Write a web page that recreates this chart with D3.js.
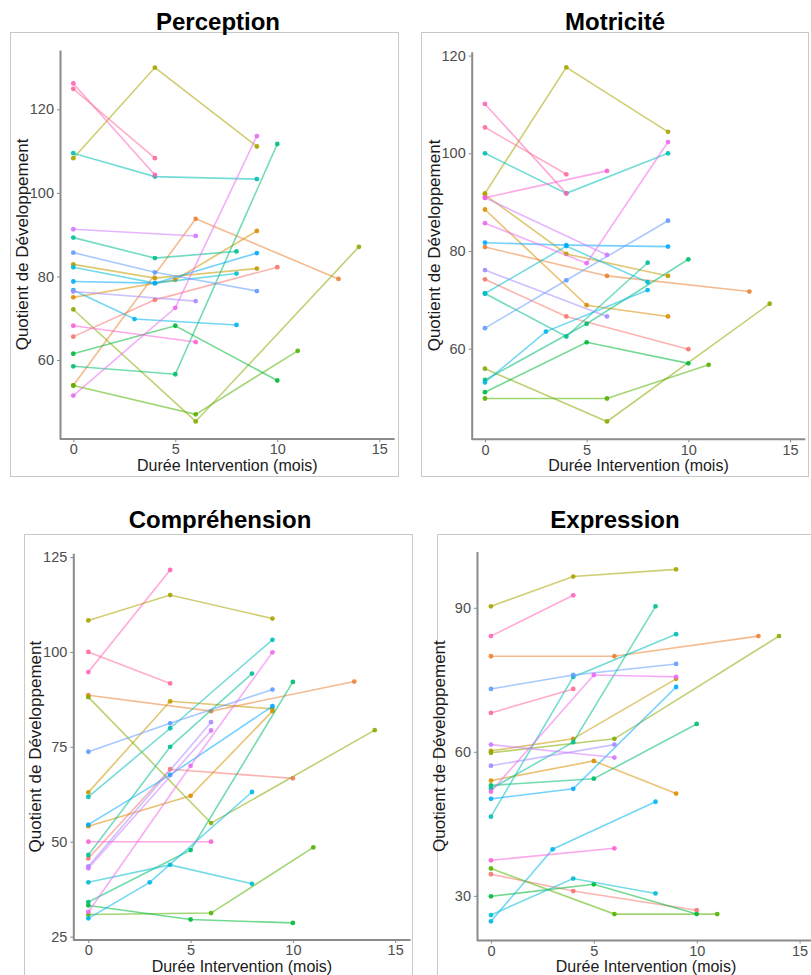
<!DOCTYPE html>
<html><head><meta charset="utf-8">
<script src="https://cdn.jsdelivr.net/npm/d3@7"></script>
<style>
body{margin:0;background:#fff;}
svg{display:block;font-family:"Liberation Sans",Arial,Helvetica,sans-serif;}
</style></head>
<body><svg id="c" width="811" height="975"></svg>
<script>
// ---------------- DATA ----------------
const subjects = ["S01","S02","S03","S04","S05","S06","S07","S08","S09","S10","S11","S12","S13","S14","S15","S16","S17","S18","S19","S20","S21"];
const months = [
  [0,4,10],[0,6,13],[0,5,9],[0,4,9],[0,4,9],[0,6,14],[0,6,11],[0,5,10],[0,5,10],[0,4,8],
  [0,4,9],[0,4,8],[0,3,8],[0,4,9],[0,4,9],[0,6],[0,6],[0,5,9],[0,6],[0,4],[0,4]
];
const perception = [
  [65.6,74.4,82.2],[53.9,93.8,79.4],[75.0,79.2,90.9],[82.9,79.6,81.9],[108.3,130.0,111.1],
  [72.1,45.3,87.1],[53.9,47.0,62.2],[61.5,68.2,55.1],[58.5,56.6,111.7],[89.3,84.4,86.0],
  [109.5,103.9,103.3],[82.2,78.4,80.7],[76.7,69.8,68.4],[78.8,78.4,85.6],[85.7,81.0,76.5],
  [76.4,74.1],[91.3,89.7],[51.5,72.5,113.6],[68.2,64.3],[126.2,104.3],[124.9,108.3]
];
const motricite = [
  [74.2,66.6,59.9],[80.8,74.9,71.7],[88.5,68.9,66.6],[91.5,79.4,74.9],[91.8,117.6,104.4],
  [55.9,45.1,69.2],[49.8,49.8,56.7],[51.1,61.3,57.0],[53.6,65.1,78.3],[71.3,62.5,77.6],
  [100.0,91.8,100.0],[71.3,81.0,73.6],[53.1,63.5,72.0],[81.7,81.2,80.9],[64.2,74.0,86.2],
  [76.1,66.6],[90.9,79.2],[85.7,77.5,102.3],[90.9,96.4],[110.1,91.8],[105.3,95.7]
];
const comprehension = [
  [45.6,69.1,66.7],[88.6,84.4,92.2],[54.1,62.1,84.4],[63.0,87.0,85.0],[108.3,115.0,108.8],
  [88.1,54.9,79.4],[30.8,31.2,48.5],[33.2,29.5,28.6],[34.1,47.8,92.1],[46.5,75.0,94.3],
  [61.8,79.9,103.2],[39.3,43.9,38.9],[29.8,39.3,63.1],[54.5,67.6,85.7],[73.7,81.2,90.1],
  [43.5,81.5],[43.0,79.3],[31.5,70.0,99.9],[50.0,50.0],[94.7,121.6],[100.0,91.7]
];
const expression = [
  [34.5,31.0,27.0],[79.9,79.9,84.1],[54.0,58.1,51.3],[60.2,62.7,75.2],[90.3,96.5,98.0],
  [59.8,62.7,84.1],[35.7,26.2,26.2],[29.9,32.4,26.2],[53.0,54.4,65.8],[52.3,62.0,90.3],
  [46.5,75.6,84.5],[26.0,33.6,30.5],[24.7,39.7,49.6],[50.2,52.3,73.5],[73.1,76.0,78.3],
  [57.1,61.5],[61.5,58.8],[51.7,76.0,75.6],[37.4,39.9],[84.1,92.6],[68.1,73.1]
];
const xTicks = [0,5,10,15];
const titles = ["Perception","Motricité","Compréhension","Expression"];
const yTicksPerception = [60,80,100,120];
const yTicksMotricite = [60,80,100,120];
const yTicksComprehension = [25,50,75,100,125];
const yTicksExpression = [30,60,90];
const xLabel = "Durée Intervention (mois)";
const yLabel = "Quotient de Développement";

// ---------------- COLOURS (ggplot-like hue palette, polar LUV) ----------------
function hclLuv(h, c, l) {
  const hr = h * Math.PI / 180;
  const U = c * Math.cos(hr), V = c * Math.sin(hr);
  const Xn = 95.047, Yn = 100, Zn = 108.883;
  const den = Xn + 15 * Yn + 3 * Zn;
  const un = 4 * Xn / den, vn = 9 * Yn / den;
  const Y = l > 8 ? Yn * Math.pow((l + 16) / 116, 3) : Yn * l / 903.3;
  const u = U / (13 * l) + un, v = V / (13 * l) + vn;
  const X = 9 * Y * u / (4 * v);
  const Z = -X / 3 - 5 * Y + 3 * Y / v;
  const x = X / 100, y = Y / 100, z = Z / 100;
  const lin = [
    3.240479 * x - 1.537150 * y - 0.498535 * z,
    -0.969256 * x + 1.875992 * y + 0.041556 * z,
    0.055648 * x - 0.204043 * y + 1.057311 * z
  ];
  const g = lin.map(t => {
    const s = t <= 0.0031308 ? 12.92 * t : 1.055 * Math.pow(t, 1 / 2.4) - 0.055;
    return Math.round(255 * Math.max(0, Math.min(1, s)));
  });
  return d3.rgb(g[0], g[1], g[2]).formatHex();
}
const palette = subjects.map((s, i) => hclLuv(15 + i * 360 / subjects.length, 100, 65));

// ---------------- LAYOUT ----------------
const panels = [
  {data: perception, ticks: yTicksPerception, frame:[10.5,32.5,388,444], titleX:218, titleY:30,
   xr:[58,394.6], yDom:[41.1,134.2], yr:[439,50], axX:60, axY:439},
  {data: motricite, ticks: yTicksMotricite, frame:[421.5,32.5,387,444], titleX:615, titleY:30,
   xr:[469.7,805.3], yDom:[41.45,120.8], yr:[439.3,51.7], axX:471.7, axY:439.3},
  {data: comprehension, ticks: yTicksComprehension, frame:[24.5,534.5,388,460], titleX:220, titleY:528,
   xr:[73,410.5], yDom:[24.1,126.0], yr:[940,553.3], axX:73.3, axY:940},
  {data: expression, ticks: yTicksExpression, frame:[437.5,534.5,380,460], titleX:615, titleY:528,
   xr:[475.5,815], yDom:[20.7,101.7], yr:[940.5,551.6], axX:477, axY:940.5}
];

const svg = d3.select("#c");

panels.forEach((p, pi) => {
  const g = svg.append("g");
  g.append("rect").attr("x", p.frame[0]).attr("y", p.frame[1])
    .attr("width", p.frame[2]).attr("height", p.frame[3])
    .attr("fill", "#fff").attr("stroke", "#c8c8c8").attr("stroke-width", 1);

  g.append("text").attr("x", p.titleX).attr("y", p.titleY)
    .attr("text-anchor", "middle").attr("font-size", 24).attr("font-weight", "bold")
    .attr("fill", "#000").text(titles[pi]);

  const x = d3.scaleLinear().domain([-0.75, 15.75]).range(p.xr);
  const y = d3.scaleLinear().domain(p.yDom).range(p.yr);

  // axes
  const ax = g.append("g").attr("transform", `translate(0,${p.axY})`)
    .call(d3.axisBottom(x).tickValues(xTicks).tickSize(3).tickSizeOuter(0).tickPadding(2));
  const ay = g.append("g").attr("transform", `translate(${p.axX},0)`)
    .call(d3.axisLeft(y).tickValues(p.ticks).tickSize(3).tickSizeOuter(0).tickPadding(3));
  [ax, ay].forEach(a => {
    a.select(".domain").attr("stroke", "#8a8a8a").attr("stroke-width", 2);
    a.selectAll(".tick line").attr("stroke", "#8a8a8a").attr("stroke-width", 1);
    a.selectAll(".tick text").attr("fill", "#4d4d4d").attr("font-size", 14.5)
      .attr("font-family", "Liberation Sans, Arial, sans-serif");
  });
  ax.select(".domain").attr("d", `M${p.axX},0H${p.xr[1]}`);

  // axis titles
  g.append("text").attr("x", (p.axX + p.xr[1]) / 2).attr("y", p.axY + 31.5)
    .attr("text-anchor", "middle").attr("font-size", 16).attr("fill", "#1a1a1a").text(xLabel);
  g.append("text")
    .attr("transform", `translate(${p.axX - 32},${(p.yr[0] + p.yr[1]) / 2}) rotate(-90)`)
    .attr("text-anchor", "middle").attr("font-size", 17).attr("fill", "#1a1a1a").text(yLabel);

  // lines + points
  const line = d3.line().x(d => x(d[0])).y(d => y(d[1]));
  subjects.forEach((s, i) => {
    const pts = months[i].map((m, k) => [m, p.data[i][k]]);
    g.append("path").attr("d", line(pts)).attr("fill", "none")
      .attr("stroke", palette[i]).attr("stroke-width", 1.6).attr("stroke-opacity", 0.55);
    g.selectAll(null).data(pts).enter().append("circle")
      .attr("cx", d => x(d[0])).attr("cy", d => y(d[1])).attr("r", 2.4)
      .attr("fill", palette[i]).attr("fill-opacity", 0.9);
  });
});
</script></body></html>
